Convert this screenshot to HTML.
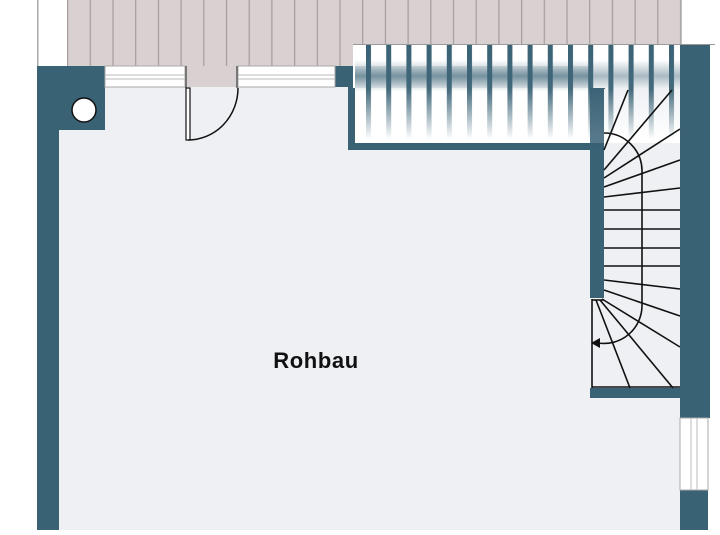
<!DOCTYPE html>
<html><head><style>
body{margin:0;width:720px;height:530px;overflow:hidden;background:#fff;font-family:"Liberation Sans",sans-serif}
</style></head><body>
<svg width="720" height="530" viewBox="0 0 720 530" xmlns="http://www.w3.org/2000/svg">
<defs>
<pattern id="deck" x="67" y="0" width="22.7" height="66" patternUnits="userSpaceOnUse">
<rect width="22.7" height="66" fill="#d9d1d1"/><rect x="0" width="1.2" height="66" fill="#a59c9c"/>
</pattern>
<linearGradient id="fade" x1="0" y1="44" x2="0" y2="144" gradientUnits="userSpaceOnUse">
<stop offset="0" stop-color="#fff" stop-opacity="0"/><stop offset="0.45" stop-color="#fff" stop-opacity="0.05"/><stop offset="0.95" stop-color="#fff" stop-opacity="1"/><stop offset="1" stop-color="#fff" stop-opacity="1"/>
</linearGradient>
<linearGradient id="band" x1="0" y1="60" x2="0" y2="92" gradientUnits="userSpaceOnUse">
<stop offset="0" stop-color="#3a6275" stop-opacity="0"/><stop offset="0.5" stop-color="#3a6275" stop-opacity="0.45"/><stop offset="1" stop-color="#3a6275" stop-opacity="0"/>
</linearGradient>
<pattern id="posts" x="366" y="0" width="20.2" height="200" patternUnits="userSpaceOnUse">
<rect x="0" width="5" height="200" fill="#3a6275"/>
</pattern>
</defs>
<rect x="67" y="0" width="615" height="66" fill="url(#deck)"/>
<rect x="37" y="0" width="1.5" height="66" fill="#aaa"/>
<rect x="680" y="0" width="1.5" height="44" fill="#aaa"/>
<rect x="59" y="87" width="621" height="443" fill="#eef0f4"/>
<g fill="#3a6275">
<rect x="37" y="66" width="22" height="464"/>
<rect x="37" y="66" width="68" height="64"/>
<rect x="335" y="66" width="20" height="21"/>
<rect x="348" y="66" width="7" height="84"/>
<rect x="348" y="143" width="255" height="7"/>
<rect x="590" y="88" width="15" height="210"/>
<rect x="680" y="44" width="30" height="374"/>
<rect x="680" y="490" width="28" height="40"/>
<rect x="590" y="388" width="90" height="10"/>
</g>
<circle cx="84" cy="110" r="12" fill="#fff" stroke="#111" stroke-width="1.5"/>
<g fill="#fff" stroke="#aaa" stroke-width="1">
<rect x="105" y="66" width="80" height="21"/>
<rect x="238" y="66" width="97" height="21"/>
<rect x="680" y="418" width="28" height="72"/>
</g>
<g stroke="#bbb" stroke-width="1">
<line x1="105" y1="75" x2="185" y2="75"/><line x1="105" y1="79" x2="185" y2="79"/>
<line x1="238" y1="75" x2="335" y2="75"/><line x1="238" y1="79" x2="335" y2="79"/>
<line x1="691" y1="418" x2="691" y2="490"/><line x1="697" y1="418" x2="697" y2="490"/>
</g>
<rect x="185" y="66" width="53" height="21" fill="#d9d1d1"/>
<rect x="185" y="66" width="2" height="22" fill="#777"/><rect x="236" y="66" width="2" height="22" fill="#777"/>
<rect x="186" y="88" width="4" height="52" fill="#fff" stroke="#111" stroke-width="1.2"/>
<path d="M188 140 A50 52 0 0 0 238 88" fill="none" stroke="#111" stroke-width="1.5"/>
<!-- balcony railing -->
<rect x="353" y="44" width="327" height="99" fill="#fff"/>
<rect x="355" y="44" width="325" height="99" fill="url(#band)"/>
<rect x="590" y="88" width="15" height="55" fill="#3a6275"/>
<rect x="604" y="89" width="76" height="54" fill="#eef0f4"/>
<rect x="355" y="44" width="325" height="99" fill="url(#posts)"/>
<rect x="355" y="44" width="325" height="99" fill="url(#fade)"/>
<rect x="680" y="44" width="30" height="100" fill="#3a6275"/>
<rect x="355" y="66" width="235" height="22" fill="url(#band)"/>
<rect x="353" y="44" width="362" height="1" fill="#999"/>
<rect x="348" y="88" width="7" height="60" fill="#3a6275"/>
<rect x="590" y="88" width="14" height="60" fill="#3a6275" opacity="0.85"/>
<!-- stair -->
<rect x="604" y="143" width="76" height="156" fill="#eef0f4"/>
<rect x="590" y="298" width="90" height="90" fill="#eef0f4"/>
<g stroke="#111" stroke-width="1.6" fill="none">
<line x1="604" y1="150" x2="628" y2="90"/>
<line x1="604" y1="170" x2="672" y2="90"/>
<line x1="604" y1="178" x2="680" y2="129"/>
<line x1="604" y1="187" x2="680" y2="160"/>
<line x1="604" y1="197" x2="680" y2="188"/>
<line x1="604" y1="210" x2="680" y2="210"/>
<line x1="604" y1="229" x2="680" y2="229"/>
<line x1="604" y1="248" x2="680" y2="248"/>
<line x1="604" y1="266" x2="680" y2="266"/>
<line x1="604" y1="280" x2="680" y2="289"/>
<line x1="604" y1="290" x2="680" y2="316"/>
<line x1="602" y1="299" x2="680" y2="347"/>
<line x1="600" y1="300" x2="673" y2="388"/>
<line x1="596" y1="300" x2="630" y2="388"/>
<line x1="592" y1="300" x2="604" y2="300"/>
<line x1="592" y1="299" x2="592" y2="388"/>
<line x1="592" y1="387" x2="680" y2="387"/>
<path d="M604 133 A38 38 0 0 1 642 170 L642 306 A38 38 0 0 1 598 343"/>
</g>
<path d="M591 343 L600 338 L600 348 Z" fill="#111"/>
<text x="316" y="368" text-anchor="middle" font-size="22" font-weight="bold" letter-spacing="0.6" fill="#111">Rohbau</text>
</svg>
</body></html>
